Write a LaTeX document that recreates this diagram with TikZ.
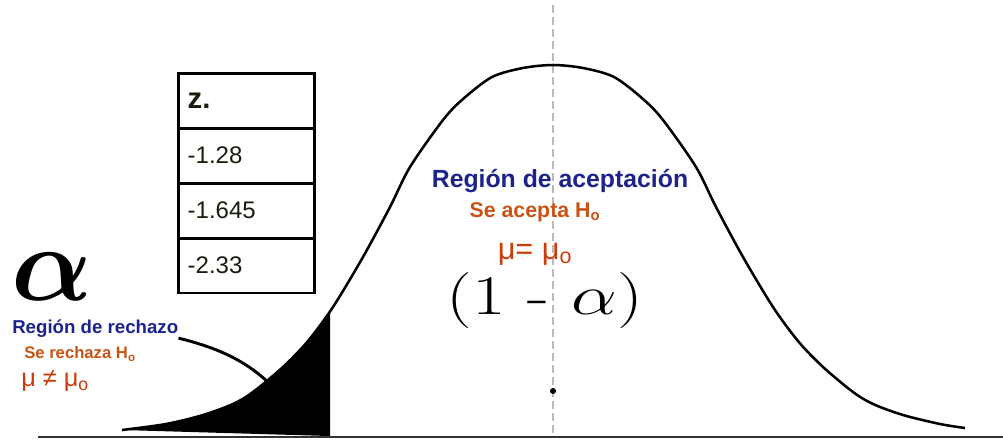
\RequirePackage{fix-cm}
\documentclass[tikz,border=0pt]{standalone}
\usepackage{graphicx}
\usepackage{amsmath}
\usepackage{fontspec}
\usetikzlibrary{math}
\newfontfamily\arialfont{Liberation Sans}
\definecolor{myblue}{RGB}{28,36,140}
\definecolor{myorange}{RGB}{200,84,20}
\definecolor{myred}{RGB}{204,60,10}
\definecolor{mydark}{RGB}{22,30,12}
\tikzset{
  zcell/.style={draw,line width=2pt,anchor=north west,minimum width=102pt,minimum height=41pt,
    text width=88pt,align=left,inner xsep=7pt,text=mydark,font=\arialfont\fontsize{18}{18}\selectfont},
  bluelbl/.style={inner sep=0pt,text=myblue,font=\arialfont\bfseries\fontsize{#1}{#1}\selectfont},
  orangelbl/.style={inner sep=0pt,text=myorange,font=\arialfont\bfseries\fontsize{#1}{#1}\selectfont},
  mulbl/.style={inner sep=0pt,text=myred,font=\arialfont\fontsize{#1}{#1}\selectfont},
}

\begin{document}
\begin{tikzpicture}[x=0.75pt,y=-0.75pt]
\tikzmath{
\mx=553; \base=437; \cut=330;
}
\fill[white] (0,0) rectangle (1003,447);
\useasboundingbox (0,0) rectangle (1003,447);

\draw[gray!55,line width=1.5pt,dash pattern=on 6pt off 3pt] (\mx,5) -- (\mx,\base);
\draw[line width=1.6pt,black!80] (38,\base) -- (1003,\base);

\begin{scope}
\clip (122,0) rectangle (\cut,\base);
\fill plot[smooth] coordinates {(122,430) (166,424) (203,415) (233,404) (253,392) (283,367) (308,341) (333,307) (363,257)} -- (363,\base) -- cycle;
\end{scope}
\draw[line width=1.9pt] plot[smooth] coordinates {(122,430) (166,424) (203,415) (233,404) (253,392) (283,367) (308,341) (333,307) (363,257) (390,207) (410,167) (443,120) (463,99) (492,77) (523,68) (553,65) (583,68) (614,77) (643,99) (663,120) (696,167) (716,207) (743,257) (773,307) (798,341) (823,367) (853,392) (873,404) (903,415) (940,424) (965,428)};
\fill (\mx,391) circle (3);

\node[zcell] (zhead) at (177,72) {\fontsize{22}{22}\selectfont\bfseries z.};
\node[zcell] (zone) at (177,127) {-1.28};
\node[zcell] (ztwo) at (177,182) {-1.645};
\node[zcell] (zthree) at (177,237) {-2.33};

\node[inner sep=0pt,font=\fontsize{80}{80}\selectfont] (alphasym) at (52,277) {$\boldsymbol{\alpha}$};
\node[bluelbl=14,anchor=west] (rechazo) at (12,329) {Región de rechazo};
\node[orangelbl=12.5,anchor=west] (rechaza) at (24,354) {Se rechaza H\textsubscript{o}};
\node[mulbl=19,anchor=west] (muneq) at (21,381) {μ ≠ μ\textsubscript{o}};
\coordinate (tailpt) at (272,386);
\draw[line width=2.2pt] (rechazo.south east) .. controls +(40,10) and +(-25,-25) .. (tailpt);

\node[bluelbl=18.6] (acept) at (560,181) {Región de aceptación};
\node[orangelbl=16] (acepta) at (535,212) {Se acepta H\textsubscript{o}};
\node[mulbl=23] (mueq) at (535,254) {μ= μ\textsubscript{o}};
\node[inner sep=0pt,font=\fontsize{42}{42}\selectfont] (onealpha) at (545,301) {\scalebox{1.3}[1]{(1 - $\alpha$)}};
\end{tikzpicture}
\end{document}
